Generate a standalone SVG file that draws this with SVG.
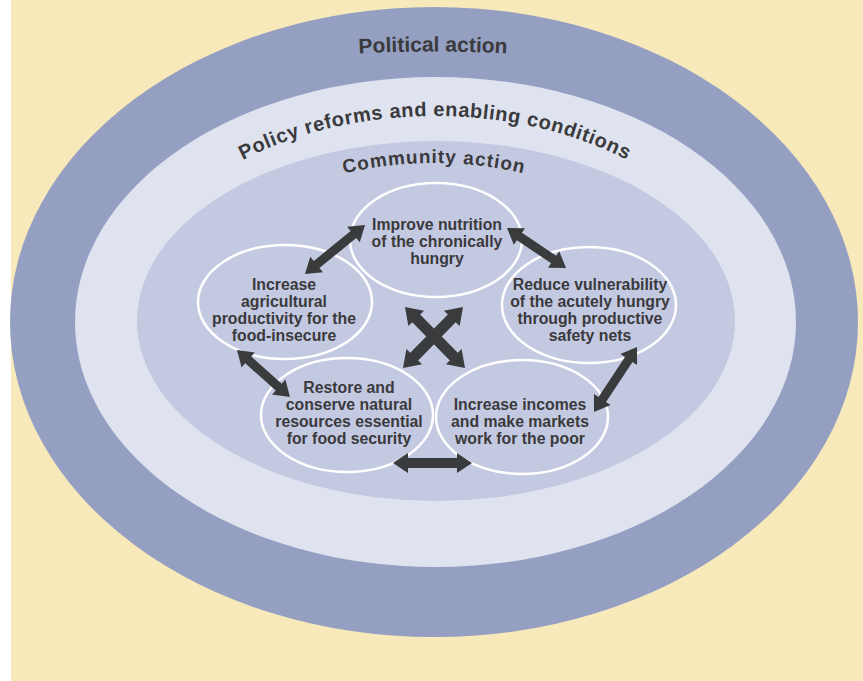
<svg xmlns="http://www.w3.org/2000/svg" width="863" height="681" viewBox="0 0 863 681">
<style>
.t{font-family:"Liberation Sans",Arial,sans-serif;font-weight:bold;fill:#3a3a3c}
.n{font-size:15.8px;text-anchor:middle}
.node{fill:none;stroke:#ffffff;stroke-width:2.5}
.arr{fill:#3a3b3d}
</style>
<defs>
<path id="arcOuter" d="M280,60 Q433,43 586,60"/>
<path id="arcMid" d="M124,322 A311 206 0 0 1 746,322"/>
<path id="arcIn" d="M184,322 A250 159 0 0 1 684,322"/>
</defs>
<rect x="0" y="0" width="863" height="681" fill="#ffffff"/>
<rect x="11" y="0" width="852" height="681" fill="#f8e9ba"/>
<g id="rings">
<ellipse cx="434" cy="322" rx="424" ry="315" fill="#949fc2"/>
<ellipse cx="435.5" cy="322" rx="360.5" ry="245" fill="#dfe3f0"/>
<ellipse cx="436" cy="321" rx="299" ry="180" fill="#c4c9e2"/>
</g>
<g id="titles" class="t">
<text font-size="21"><textPath href="#arcOuter" startOffset="50%" text-anchor="middle">Political action</textPath></text>
<text font-size="20" letter-spacing="0.6"><textPath href="#arcMid" startOffset="50%" text-anchor="middle">Policy reforms and enabling conditions</textPath></text>
<text font-size="19" letter-spacing="1"><textPath href="#arcIn" startOffset="50%" text-anchor="middle">Community action</textPath></text>
</g>
<g id="node-nutrition">
<ellipse class="node" cx="436" cy="240" rx="86" ry="57"/>
<text class="t n"><tspan x="437" y="229.5">Improve nutrition</tspan><tspan x="437" y="246.5">of the chronically</tspan><tspan x="437" y="263.5">hungry</tspan></text>
</g>
<g id="node-agriculture">
<ellipse class="node" cx="285" cy="302" rx="87" ry="57"/>
<text class="t n"><tspan x="284" y="289.5">Increase</tspan><tspan x="284" y="306.5">agricultural</tspan><tspan x="284" y="323.5">productivity for the</tspan><tspan x="284" y="340.5">food-insecure</tspan></text>
</g>
<g id="node-vulnerability">
<ellipse class="node" cx="589" cy="305" rx="87" ry="58"/>
<text class="t n"><tspan x="590" y="289.5">Reduce vulnerability</tspan><tspan x="590" y="306.5">of the acutely hungry</tspan><tspan x="590" y="323.5">through productive</tspan><tspan x="590" y="340.5">safety nets</tspan></text>
</g>
<g id="node-resources">
<ellipse class="node" cx="347" cy="415" rx="86" ry="57"/>
<text class="t n"><tspan x="349" y="393">Restore and</tspan><tspan x="349" y="410">conserve natural</tspan><tspan x="349" y="427">resources essential</tspan><tspan x="349" y="444">for food security</tspan></text>
</g>
<g id="node-incomes">
<ellipse class="node" cx="522" cy="417" rx="86" ry="57"/>
<text class="t n"><tspan x="520" y="410">Increase incomes</tspan><tspan x="520" y="427">and make markets</tspan><tspan x="520" y="444">work for the poor</tspan></text>
</g>
<g id="connectors" class="arr">
<path transform="translate(305,274) rotate(-39.2)" d="M0,0 L15,-10 L15,-4.5 L62.5,-4.5 L62.5,-10 L77.5,0 L62.5,10 L62.5,4.5 L15,4.5 L15,10 Z"/>
<path transform="translate(507,228) rotate(34.1)" d="M0,0 L15,-10 L15,-4.5 L56.3,-4.5 L56.3,-10 L71.3,0 L56.3,10 L56.3,4.5 L15,4.5 L15,10 Z"/>
<path transform="translate(237,350) rotate(41.6)" d="M0,0 L15,-10 L15,-4.5 L55.8,-4.5 L55.8,-10 L70.8,0 L55.8,10 L55.8,4.5 L15,4.5 L15,10 Z"/>
<path transform="translate(637,347) rotate(123.5)" d="M0,0 L15,-10 L15,-4.5 L62.9,-4.5 L62.9,-10 L77.9,0 L62.9,10 L62.9,4.5 L15,4.5 L15,10 Z"/>
<path transform="translate(393,463)" d="M0,0 L15,-10 L15,-5 L64,-5 L64,-10 L79,0 L64,10 L64,5 L15,5 L15,10 Z"/>
<path transform="translate(405,307) rotate(45.5)" d="M0,0 L16,-11 L16,-5.5 L69.6,-5.5 L69.6,-11 L85.6,0 L69.6,11 L69.6,5.5 L16,5.5 L16,11 Z"/>
<path transform="translate(463,307) rotate(134.5)" d="M0,0 L16,-11 L16,-5.5 L69.6,-5.5 L69.6,-11 L85.6,0 L69.6,11 L69.6,5.5 L16,5.5 L16,11 Z"/>
</g>
</svg>
